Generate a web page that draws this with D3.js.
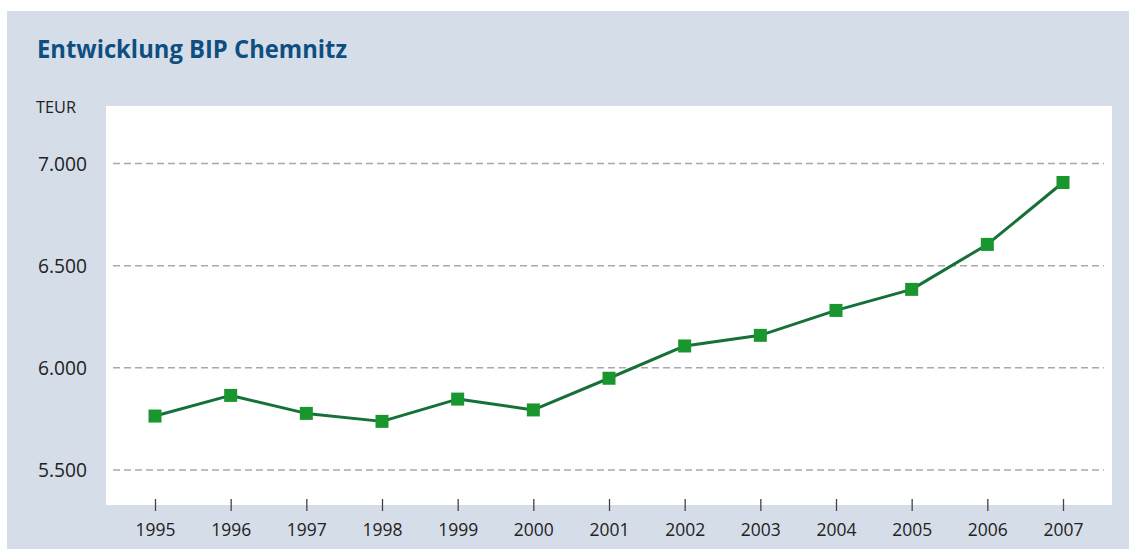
<!DOCTYPE html>
<html>
<head>
<meta charset="utf-8">
<script src="https://cdn.jsdelivr.net/npm/d3@7"></script>
<style>
  body { margin: 0; background: #fff; }
  svg { display: block; }
</style>
</head>
<body>
<svg id="chart"></svg>
<script>
// Données (BIP Chemnitz, TEUR)
const annees = ["1995", "1996", "1997", "1998", "1999", "2000", "2001", "2002", "2003", "2004", "2005", "2006", "2007"];
const valeurs = [5764, 5865, 5777, 5738, 5847, 5794, 5949, 6107, 6159, 6281, 6384, 6604, 6907];
const ticksY = [5500, 6000, 6500, 7000];
const titre = "Entwicklung BIP Chemnitz";
const unite = "TEUR";

const largeur = 1129, hauteur = 549;
const police = "'Open Sans', sans-serif";

const svg = d3.select("#chart")
  .attr("width", largeur)
  .attr("height", hauteur)
  .style("font-family", police);

// Ajuster la taille de police pour qu'un texte ait une largeur donnée
function taillePour(texte, largeurVoulue, base) {
  const t = svg.append("text")
    .style("font-family", police)
    .style("font-size", base + "px")
    .text(texte);
  const l = t.node().getComputedTextLength();
  t.remove();
  return base * largeurVoulue / l;
}

// fond du panneau
svg.append("rect")
  .attr("x", 7).attr("y", 11)
  .attr("width", largeur - 7).attr("height", hauteur - 11)
  .attr("fill", "#d5dde9");

// zone blanche du graphique
const zone = { x0: 106, x1: 1112, y0: 106, y1: 505 };
svg.append("rect")
  .attr("x", zone.x0).attr("y", zone.y0)
  .attr("width", zone.x1 - zone.x0).attr("height", zone.y1 - zone.y0)
  .attr("fill", "#fff");

// échelles
const x = d3.scalePoint()
  .domain(annees)
  .range([155, 1063]);

const y = d3.scaleLinear()
  .domain([5500, 7000])
  .range([470, 163.5]);

// lignes de grille
svg.append("g")
  .selectAll("line")
  .data(ticksY)
  .enter().append("line")
  .attr("x1", 113)
  .attr("x2", 1104)
  .attr("y1", d => y(d))
  .attr("y2", d => y(d))
  .attr("stroke", "#a9a9a9")
  .attr("stroke-width", 1.5)
  .attr("stroke-dasharray", "7,4");

// axe Y (texte seulement)
const fmt = d3.formatLocale({ decimal: ",", thousands: ".", grouping: [3], currency: ["", "€"] }).format(",");
const tailleY = taillePour("7.000", 49, 20);
const axeY = svg.append("g")
  .attr("transform", "translate(87,0)")
  .call(d3.axisLeft(y).tickValues(ticksY).tickFormat(fmt).tickSize(0).tickPadding(0));
axeY.select(".domain").remove();
axeY.selectAll("text")
  .attr("fill", "#222")
  .attr("dy", "0.36em")
  .style("font-size", tailleY + "px")
  .style("font-family", police);

// axe X
const tailleX = taillePour("1995", 40, 20);
const axeX = svg.append("g")
  .attr("transform", "translate(0,499)")
  .call(d3.axisBottom(x).tickSize(12));
axeX.select(".domain").remove();
axeX.selectAll(".tick line")
  .attr("stroke", "#444")
  .attr("stroke-width", 1.3);
axeX.selectAll("text")
  .attr("fill", "#222")
  .attr("y", 37)
  .attr("dy", 0)
  .style("font-size", tailleX + "px")
  .style("font-family", police);

// courbe
const ligne = d3.line()
  .x((d, i) => x(annees[i]))
  .y(d => y(d));

svg.append("path")
  .datum(valeurs)
  .attr("d", ligne)
  .attr("fill", "none")
  .attr("stroke", "#16703a")
  .attr("stroke-width", 3)
  .attr("stroke-linejoin", "round");

// marqueurs carrés
const taille = 13;
svg.append("g")
  .selectAll("rect")
  .data(valeurs)
  .enter().append("rect")
  .attr("x", (d, i) => x(annees[i]) - taille / 2)
  .attr("y", d => y(d) - taille / 2)
  .attr("width", taille)
  .attr("height", taille)
  .attr("fill", "#1a962e");

// titre
svg.append("text")
  .attr("x", 37).attr("y", 58)
  .attr("fill", "#0e4f80")
  .style("font-size", "25px")
  .style("font-weight", "bold")
  .style("font-family", police)
  .attr("textLength", 310)
  .attr("lengthAdjust", "spacingAndGlyphs")
  .text(titre);

// unité
svg.append("text")
  .attr("x", 36).attr("y", 113)
  .attr("fill", "#222")
  .style("font-size", taillePour(unite, 40, 16) + "px")
  .text(unite);
</script>
</body>
</html>
